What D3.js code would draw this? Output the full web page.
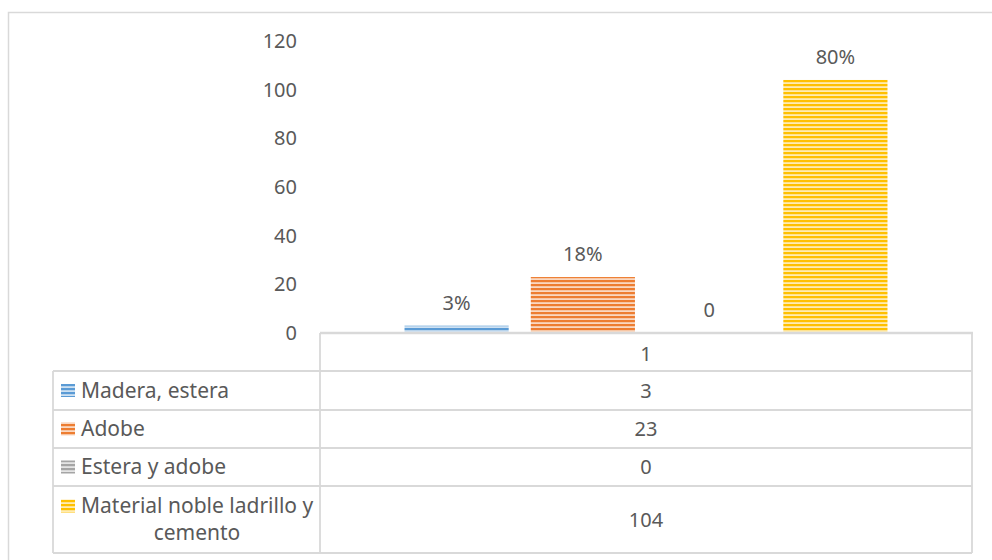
<!DOCTYPE html>
<html>
<head>
<meta charset="utf-8">
<script src="https://cdn.jsdelivr.net/npm/d3@7"></script>
<style>
  html, body { margin: 0; padding: 0; background: #ffffff; }
  svg { display: block; font-family: "Noto Sans", "Open Sans", sans-serif; }
</style>
</head>
<body>
<svg id="chart" width="992" height="560"></svg>
<script>
// Category on the x axis (single group)
const categories = ["1"];
// Series names, counts and share labels
const seriesNames = ["Madera, estera", "Adobe", "Estera y adobe", "Material noble ladrillo y cemento"];
const seriesValues = [3, 23, 0, 104];
const percentLabels = ["3%", "18%", "0", "80%"];
const seriesColors = ["#5B9BD5", "#ED7D31", "#A5A5A5", "#FFC000"];
const yTicks = [0, 20, 40, 60, 80, 100, 120];

const svg = d3.select("#chart");
const textColor = "#595959";
const gridColor = "#d9d9d9";
const axisFont = 20;
const tableFont = 21;

// Layout of the plot and the data table below it
const plot = { left: 320, right: 972, top: 41, bottom: 333 };
const table = { left: 53, split: 320, right: 972 };
const rowLines = [333, 371, 410, 448, 486, 553];

// Striped fills for each series
const defs = svg.append("defs");
seriesColors.forEach((c, i) => {
  const light = d3.interpolateRgb(c, "#ffffff")(0.7);
  const p = defs.append("pattern")
    .attr("id", "stripe" + i)
    .attr("patternUnits", "userSpaceOnUse")
    .attr("width", 8).attr("height", 4);
  p.append("rect").attr("width", 8).attr("height", 4).attr("fill", light);
  p.append("rect").attr("width", 8).attr("height", 2.2).attr("fill", c);
});

// Outer chart frame
svg.append("path")
  .attr("d", "M8.5,600 V12.5 H1000")
  .attr("fill", "none").attr("stroke", gridColor).attr("stroke-width", 1.5);

// Scales
const y = d3.scaleLinear().domain([0, 120]).range([plot.bottom, plot.top]);
const x0 = d3.scaleBand().domain(categories).range([plot.left, plot.right])
  .paddingInner(0).paddingOuter(0.175);
const x1 = d3.scaleBand().domain(seriesNames).range([0, x0.bandwidth()])
  .paddingInner(0.175).paddingOuter(0);

// Y axis labels
const yAxis = d3.axisLeft(y).tickValues(yTicks).tickSize(0).tickPadding(23);
const gy = svg.append("g").attr("transform", `translate(${plot.left},0)`).call(yAxis);
gy.select(".domain").remove();
gy.selectAll("text").attr("fill", textColor).attr("font-size", axisFont)
  .attr("font-family", "'Noto Sans', 'Open Sans', sans-serif");

// Bars
const barData = seriesNames.map((name, i) => ({ name, value: seriesValues[i], label: percentLabels[i], i }));
const g = svg.append("g").attr("transform", `translate(${x0(categories[0])},0)`);
g.selectAll("rect.bar").data(barData).join("rect")
  .attr("class", "bar")
  .attr("x", d => x1(d.name))
  .attr("y", d => y(d.value))
  .attr("width", x1.bandwidth())
  .attr("height", d => y(0) - y(d.value))
  .attr("fill", d => `url(#stripe${d.i})`);

// Data labels above bars
g.selectAll("text.lbl").data(barData).join("text")
  .attr("class", "lbl")
  .attr("x", d => x1(d.name) + x1.bandwidth() / 2)
  .attr("y", d => y(d.value) - 23)
  .attr("dy", "0.35em")
  .attr("text-anchor", "middle")
  .attr("fill", textColor).attr("font-size", axisFont)
  .text(d => d.label);

// Data table grid
const grid = svg.append("g").attr("stroke", gridColor).attr("fill", "none");
// baseline / header top
grid.append("line").attr("x1", table.split).attr("x2", table.right + 1)
  .attr("y1", rowLines[0]).attr("y2", rowLines[0]).attr("stroke-width", 2.5);
rowLines.slice(1).forEach(ly => {
  grid.append("line").attr("x1", table.left).attr("x2", table.right)
    .attr("y1", ly).attr("y2", ly).attr("stroke-width", 1.8);
});
grid.append("line").attr("x1", table.split).attr("x2", table.split)
  .attr("y1", rowLines[0]).attr("y2", rowLines[5]).attr("stroke-width", 1.8);
grid.append("line").attr("x1", table.left).attr("x2", table.left)
  .attr("y1", rowLines[1]).attr("y2", rowLines[5]).attr("stroke-width", 1.8);
grid.append("line").attr("x1", table.right).attr("x2", table.right)
  .attr("y1", rowLines[0]).attr("y2", rowLines[5]).attr("stroke-width", 1.8);

const valueX = x0(categories[0]) + x0.bandwidth() / 2;
// header row (category)
svg.append("text").attr("x", valueX).attr("y", (rowLines[0] + rowLines[1]) / 2 + 2)
  .attr("dy", "0.35em").attr("text-anchor", "middle")
  .attr("fill", textColor).attr("font-size", axisFont).text(categories[0]);

// series rows
barData.forEach((d, i) => {
  const top = rowLines[i + 1], bot = rowLines[i + 2];
  const mid = (top + bot) / 2;
  // value
  svg.append("text").attr("x", valueX).attr("y", mid)
    .attr("dy", "0.35em").attr("text-anchor", "middle")
    .attr("fill", textColor).attr("font-size", axisFont).text(d.value);
  // legend key
  const multi = d.name.length > 20;
  const lineY = multi ? top + 20 : mid;
  svg.append("rect").attr("x", 61).attr("y", lineY - 6.5)
    .attr("width", 14).attr("height", 13)
    .attr("fill", `url(#stripe${d.i})`);
  if (!multi) {
    svg.append("text").attr("x", 81).attr("y", mid).attr("dy", "0.35em")
      .attr("fill", textColor).attr("font-size", tableFont).text(d.name);
  } else {
    const words = d.name.split(" ");
    const first = words.slice(0, 4).join(" ");
    const second = words.slice(4).join(" ");
    svg.append("text").attr("x", 81).attr("y", lineY).attr("dy", "0.35em")
      .attr("fill", textColor).attr("font-size", tableFont).text(first);
    svg.append("text").attr("x", 197).attr("y", lineY + 27).attr("dy", "0.35em")
      .attr("text-anchor", "middle")
      .attr("fill", textColor).attr("font-size", tableFont).text(second);
  }
});
</script>
</body>
</html>
